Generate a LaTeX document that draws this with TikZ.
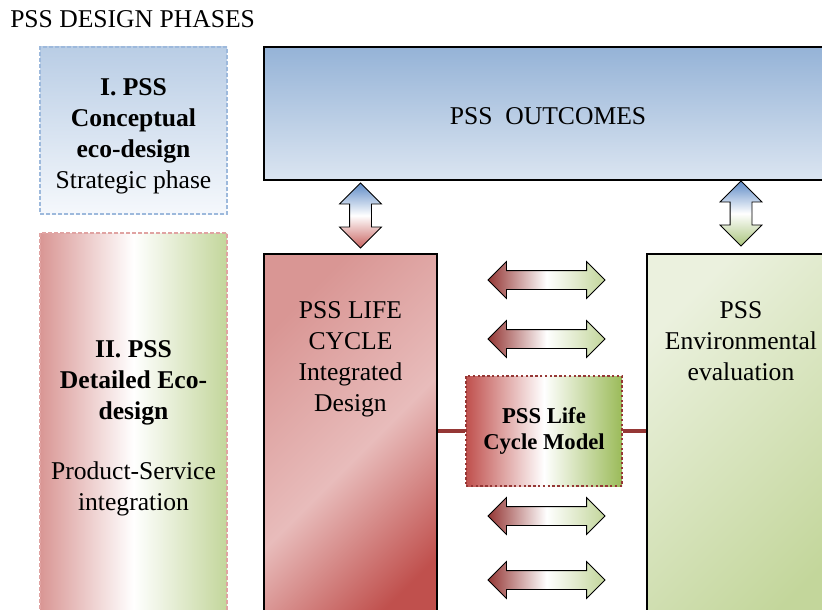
\documentclass[tikz,border=0pt]{standalone}
\usepackage{fontspec}
\setmainfont{Liberation Serif}
\usetikzlibrary{positioning,shapes.arrows}
\definecolor{PhBlueTop}{HTML}{B9CDE5}
\definecolor{PhBlueBot}{HTML}{F5F8FC}
\definecolor{PhBlueLine}{HTML}{9DB9DC}
\definecolor{PhPinkLine}{HTML}{E0A3A2}
\definecolor{OutTop}{HTML}{95B3D7}
\definecolor{OutBot}{HTML}{DBE5F1}
\definecolor{LcPink}{HTML}{D99694}
\definecolor{LcLight}{HTML}{E8BCBB}
\definecolor{LcRed}{HTML}{C0504D}
\definecolor{EnvLight}{HTML}{EBF1DE}
\definecolor{EnvGreen}{HTML}{C3D69B}
\definecolor{EnvGreenDk}{HTML}{9BBB59}
\definecolor{LinkRed}{HTML}{953735}
\definecolor{ArrRed}{HTML}{943634}
\definecolor{VTop}{HTML}{5F8BC6}
\definecolor{VRed}{HTML}{C8625F}
\definecolor{VGreen}{HTML}{A9C47C}
\pgfdeclarehorizontalshading{lcshade}{100bp}{color(0bp)=(LcPink); color(25bp)=(LcPink); color(52bp)=(LcLight); color(75bp)=(LcRed); color(100bp)=(LcRed)}
\pgfdeclarehorizontalshading{envshade}{100bp}{color(0bp)=(EnvLight); color(25bp)=(EnvLight); color(75bp)=(EnvGreen); color(100bp)=(EnvGreen)}

\begin{document}
\begin{tikzpicture}[x=0.75pt,y=-0.75pt,
  txt/.style={font=\fontsize{19.2}{23.25}\selectfont, align=center, inner sep=0pt},
  phase/.style={draw, line width=0.9pt, dash pattern=on 3pt off 1.5pt, minimum width=140.25pt},
  block/.style={draw=black, line width=1.2pt},
  hlink/.style={double arrow, draw=black, line width=0.6pt, inner sep=6.75pt,
    double arrow head extend=6.75pt, minimum height=87.75pt,
    left color=ArrRed, right color=EnvGreen, middle color=white},
  vlink/.style={double arrow, shape border rotate=90, draw=black, line width=0.6pt, inner sep=7.875pt,
    double arrow head extend=7.5pt, minimum height=48.75pt},
]
\clip (0,0) rectangle (822,610);

% design phases column
\node[txt, anchor=base west] (title) at (10,28) {PSS DESIGN PHASES};
\node[phase, draw=PhBlueLine, top color=PhBlueTop, bottom color=PhBlueBot, minimum height=125.25pt] (concept) at (133.5,130.5) {};
\node[txt] (concepttext) at ([yshift=-4.5pt]concept.center)
  {\textbf{I. PSS}\\\textbf{Conceptual}\\\textbf{eco-design}\\Strategic phase};
\node[phase, draw=PhPinkLine, left color=LcPink, right color=EnvGreen, middle color=white, minimum height=286.5pt] (detail) at (133.5,424) {};
\node[txt] (detailtext) at ([yshift=-3pt]detail.center)
  {\textbf{II. PSS}\\\textbf{Detailed Eco-}\\\textbf{design}\\[21.75pt]Product-Service\\integration};

% main blocks
\node[block, top color=OutTop, bottom color=OutBot, minimum width=426pt, minimum height=99.75pt] (outcomes) at (548,113.5) {};
\node[txt] (outtext) at ([yshift=-2.25pt]outcomes.center) {PSS~~OUTCOMES};
\node[block, shade, shading=lcshade, shading angle=-45, minimum width=129.75pt, minimum height=289.5pt] (lifecycle) at (350.5,447) {};
\node[txt, below=36pt of lifecycle.north] (lctext) {PSS LIFE\\CYCLE\\Integrated\\Design};
\node[block, shade, shading=envshade, shading angle=-45, minimum width=141pt, minimum height=289.5pt] (enveval) at (741,447) {};
\node[txt, below=36pt of enveval.north] (envtext) {PSS\\Environmental\\evaluation};

% model in the middle
\node[draw=LinkRed, line width=2pt, dash pattern=on 1.8pt off 1.8pt, left color=LcRed, right color=EnvGreenDk, middle color=white,
  minimum width=117pt, minimum height=82.5pt, align=center, font=\bfseries\fontsize{17}{19.5}\selectfont] (model) at (544,431) {PSS Life\\Cycle Model};
\draw[LinkRed, line width=2.4pt] (model.west -| lifecycle.east) -- (model.west);
\draw[LinkRed, line width=2.4pt] (model.east) -- (model.east -| enveval.west);

% arrows
\node[vlink, top color=VTop, bottom color=VRed, middle color=white] (vlc) at (360.5,215.5) {};
\node[vlink, top color=VTop, bottom color=VGreen, middle color=white] (venv) at (741,213.5) {};
\foreach \ya/\nm in {280/h1,339/h2,516/h3,580/h4}
  \node[hlink] (\nm) at (546.5,\ya) {};
\end{tikzpicture}
\end{document}
